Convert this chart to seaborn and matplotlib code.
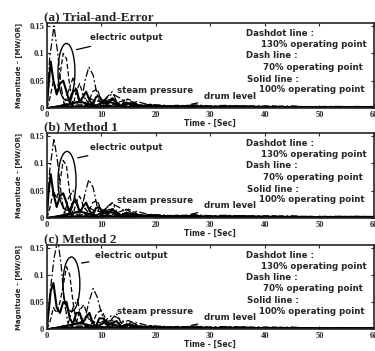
import numpy as np
import pandas as pd
import matplotlib
matplotlib.use('Agg')
import matplotlib.pyplot as plt
from matplotlib.patches import Ellipse
import seaborn as sns

sns.set_style('ticks')
plt.rcParams['font.family'] = ['Liberation Serif', 'DejaVu Serif']
plt.rcParams['font.weight'] = 'bold'
LABEL_FONT = ['DejaVu Sans']

# panel titles
TITLES = ['(a) Trial-and-Error', '(b) Method 1', '(c) Method 2']

# electric output, 130% operating point (dashdot)
t_elec_130 = [0, 0.5, 1.3, 2.0, 2.6, 3.2, 3.9, 4.8, 5.6, 6.3, 7.0, 7.7, 8.5, 9.2, 10.0,
              11.0, 12.0, 12.8, 13.6, 14.5, 15.5, 17, 19, 22, 26, 30, 35, 40, 50, 60]
elec_130_a = [0, 0.09, 0.15, 0.10, 0.04, 0.005, 0.03, 0.055, 0.02, 0.01, 0.05, 0.075, 0.06,
              0.025, 0.004, 0.02, 0.03, 0.012, 0.004, 0.018, 0.012, 0.004, 0.007, 0.003,
              0.005, 0.003, 0.004, 0.002, 0.002, 0.001]
elec_130_b = [0, 0.085, 0.145, 0.10, 0.045, 0.006, 0.035, 0.05, 0.02, 0.012, 0.045, 0.07, 0.055,
              0.022, 0.004, 0.02, 0.028, 0.012, 0.004, 0.016, 0.01, 0.004, 0.006, 0.003,
              0.005, 0.003, 0.004, 0.002, 0.002, 0.001]
elec_130_c = [0, 0.06, 0.13, 0.165, 0.12, 0.05, 0.01, 0.04, 0.055, 0.02, 0.02, 0.05, 0.075,
              0.06, 0.03, 0.005, 0.02, 0.028, 0.012, 0.004, 0.014, 0.005, 0.006, 0.003,
              0.005, 0.003, 0.004, 0.002, 0.002, 0.001]

# electric output, 70% operating point (dash)
t_elec_70 = [0, 0.6, 1.2, 1.8, 2.4, 3.0, 3.6, 4.2, 4.8, 5.4, 6.0, 6.8, 7.6, 8.4, 9.2, 10.0,
             11.0, 12.0, 13.0, 14.0, 16, 18, 21, 25, 30, 40, 50, 60]
elec_70_a = [0, 0.02, 0.05, 0.03, 0.06, 0.10, 0.09, 0.04, 0.005, 0.03, 0.045, 0.02, 0.01,
             0.03, 0.035, 0.015, 0.005, 0.015, 0.01, 0.003, 0.006, 0.003, 0.004, 0.002,
             0.003, 0.002, 0.001, 0.001]
elec_70_b = [0, 0.02, 0.05, 0.035, 0.065, 0.105, 0.095, 0.045, 0.006, 0.03, 0.04, 0.02, 0.01,
             0.028, 0.032, 0.014, 0.005, 0.014, 0.01, 0.003, 0.006, 0.003, 0.004, 0.002,
             0.003, 0.002, 0.001, 0.001]
elec_70_c = [0, 0.015, 0.04, 0.03, 0.05, 0.08, 0.115, 0.1, 0.05, 0.01, 0.035, 0.045, 0.02,
             0.012, 0.03, 0.035, 0.015, 0.005, 0.012, 0.004, 0.006, 0.003, 0.004, 0.002,
             0.003, 0.002, 0.001, 0.001]

# electric output, 100% operating point (solid)
t_elec_100 = [0, 0.3, 0.7, 1.2, 1.8, 2.4, 3.0, 3.6, 4.2, 4.8, 5.4, 6.0, 6.6, 7.2, 7.8, 8.4,
              9.0, 9.6, 10.4, 11.2, 12.0, 12.8, 13.6, 14.4, 15.5, 17, 19, 22, 26, 30, 40, 50, 60]
elec_100_a = [0, 0.04, 0.085, 0.05, 0.025, 0.045, 0.05, 0.03, 0.01, 0.03, 0.035, 0.012, 0.02,
              0.03, 0.015, 0.005, 0.02, 0.022, 0.008, 0.01, 0.018, 0.01, 0.003, 0.01, 0.008,
              0.003, 0.005, 0.003, 0.003, 0.002, 0.002, 0.001, 0.001]
elec_100_b = [0, 0.045, 0.08, 0.045, 0.02, 0.04, 0.045, 0.028, 0.008, 0.028, 0.032, 0.01, 0.02,
              0.028, 0.014, 0.004, 0.018, 0.02, 0.008, 0.01, 0.016, 0.009, 0.003, 0.009, 0.007,
              0.003, 0.005, 0.003, 0.003, 0.002, 0.002, 0.001, 0.001]
elec_100_c = [0, 0.03, 0.07, 0.085, 0.04, 0.03, 0.05, 0.05, 0.02, 0.01, 0.03, 0.03, 0.012,
              0.022, 0.03, 0.012, 0.005, 0.02, 0.02, 0.006, 0.012, 0.015, 0.005, 0.008, 0.007,
              0.003, 0.005, 0.003, 0.003, 0.002, 0.002, 0.001, 0.001]

# steam pressure (same shape in all panels)
t_steam = [0, 2, 4, 6, 7.5, 9, 10.5, 12, 13.5, 15, 16.5, 18, 19.5, 21, 23, 25, 28, 32, 36,
           40, 45, 50, 55, 60]
steam_130 = [0, 0.004, 0.008, 0.012, 0.02, 0.012, 0.015, 0.026, 0.018, 0.008, 0.012, 0.008,
             0.004, 0.006, 0.003, 0.004, 0.002, 0.003, 0.002, 0.002, 0.001, 0.001, 0.001, 0.001]
steam_70 = [0, 0.003, 0.006, 0.01, 0.006, 0.014, 0.01, 0.006, 0.012, 0.016, 0.008, 0.004,
            0.007, 0.004, 0.002, 0.003, 0.002, 0.002, 0.001, 0.002, 0.001, 0.001, 0.001, 0.001]
steam_100 = [0, 0.003, 0.007, 0.012, 0.008, 0.004, 0.012, 0.01, 0.004, 0.008, 0.006, 0.003,
             0.004, 0.002, 0.003, 0.002, 0.002, 0.001, 0.002, 0.001, 0.001, 0.001, 0.001, 0.001]

# drum level
t_drum = [0, 3, 6, 9, 12, 15, 18, 21, 24, 27, 30, 33, 36, 39, 42, 45, 48, 51, 54, 57, 60]
drum_130 = [0, 0.004, 0.006, 0.004, 0.005, 0.003, 0.005, 0.004, 0.003, 0.006, 0.004, 0.005,
            0.003, 0.004, 0.003, 0.004, 0.002, 0.003, 0.003, 0.002, 0.002]
drum_70 = [0, 0.003, 0.004, 0.006, 0.003, 0.005, 0.003, 0.004, 0.005, 0.004, 0.003, 0.004,
           0.004, 0.003, 0.004, 0.002, 0.003, 0.002, 0.002, 0.003, 0.002]
drum_100 = [0, 0.002, 0.003, 0.002, 0.003, 0.002, 0.003, 0.002, 0.002, 0.003, 0.002, 0.002,
            0.003, 0.002, 0.002, 0.002, 0.002, 0.001, 0.002, 0.002, 0.002]

# ellipse around electric output (centre t, centre value, width s, height)
ELLIPSES = [(3.6, 0.066, 3.1, 0.104), (3.7, 0.068, 3.3, 0.107), (4.5, 0.083, 3.1, 0.10)]

X_TICKS = [0, 10, 20, 30, 40, 50, 60]
Y_TICKS = [0, 0.05, 0.1, 0.15]
Y_TICKLABELS = ['0', '0.05', '0.1', '0.15']

LEGEND_LINES = ['Dashdot line :', '130% operating point', 'Dash line :',
                '70% operating point', 'Solid line :', '100% operating point']

elec = [(elec_130_a, elec_70_a, elec_100_a),
        (elec_130_b, elec_70_b, elec_100_b),
        (elec_130_c, elec_70_c, elec_100_c)]

DASHDOT = (0, (6, 2, 1.5, 2))
DASH = (0, (4, 2))

fig = plt.figure(figsize=(3.75, 3.51), dpi=100)
axes_pos = [[0.125, 0.692, 0.872, 0.242],
            [0.125, 0.379, 0.872, 0.242],
            [0.125, 0.062, 0.872, 0.240]]

for i, pos in enumerate(axes_pos):
    ax = fig.add_axes(pos)
    e130, e70, e100 = elec[i]
    curves = [
        (t_elec_130, e130, DASHDOT, 0.9), (t_elec_70, e70, DASH, 0.9), (t_elec_100, e100, '-', 1.5),
        (t_steam, steam_130, DASHDOT, 0.9), (t_steam, steam_70, DASH, 0.9), (t_steam, steam_100, '-', 1.5),
        (t_drum, drum_130, DASHDOT, 0.9), (t_drum, drum_70, DASH, 0.9), (t_drum, drum_100, '-', 1.5),
    ]
    for t, v, ls, lw in curves:
        sns.lineplot(x=t, y=v, ax=ax, color='black', linestyle=ls, linewidth=lw, sort=False)

    cx, cy, w, h = ELLIPSES[i]
    ax.add_patch(Ellipse((cx, cy), w, h, fill=False, edgecolor='black', linewidth=1.0))

    ax.set_xlim(0, 60)
    ax.set_ylim(0, 0.155)
    ax.set_xticks(X_TICKS)
    ax.set_xticklabels([str(x) for x in X_TICKS], fontsize=6, fontweight='bold')
    ax.set_yticks(Y_TICKS)
    ax.set_yticklabels(Y_TICKLABELS, fontsize=6, fontweight='bold')
    ax.tick_params(direction='in', length=2, width=0.8, right=True, top=True, pad=2)
    for s in ax.spines.values():
        s.set_linewidth(1.2)
    ax.set_xlabel('Time - [Sec]', fontsize=5.5, fontweight='bold', labelpad=0, family=LABEL_FONT)
    ax.set_ylabel('Magnitude - [MW/OR]', fontsize=5, fontweight='bold', labelpad=5, family=LABEL_FONT)
    ax.set_title(TITLES[i], loc='left', fontsize=9.5, fontweight='bold', pad=2, x=-0.01)

    # curve labels
    ax.annotate('electric output', xy=(cx + w / 2 - 0.2, cy + h * 0.38),
                xytext=(cx + 4.3, 0.128 + (cy - 0.066) * 0.5),
                fontsize=6.2, fontweight='bold', va='center', family=LABEL_FONT,
                arrowprops=dict(arrowstyle='-', color='black', lw=0.9))
    ax.annotate('steam pressure', xy=(9.8, 0.012), xytext=(12.8, 0.032),
                fontsize=6.2, fontweight='bold', va='center', family=LABEL_FONT,
                arrowprops=dict(arrowstyle='-', color='black', lw=0.9))
    ax.annotate('drum level', xy=(26.0, 0.006), xytext=(28.8, 0.022),
                fontsize=6.2, fontweight='bold', va='center', family=LABEL_FONT,
                arrowprops=dict(arrowstyle='-', color='black', lw=0.9))

    # line style key
    lx = [0.61, 0.655, 0.61, 0.66, 0.613, 0.65]
    ly = [0.88, 0.75, 0.62, 0.48, 0.34, 0.215]
    for txt, x, y in zip(LEGEND_LINES, lx, ly):
        ax.text(x, y, txt, transform=ax.transAxes, fontsize=6.2, fontweight='bold',
                va='center', family=LABEL_FONT)

fig.savefig('out.png', dpi=100)
